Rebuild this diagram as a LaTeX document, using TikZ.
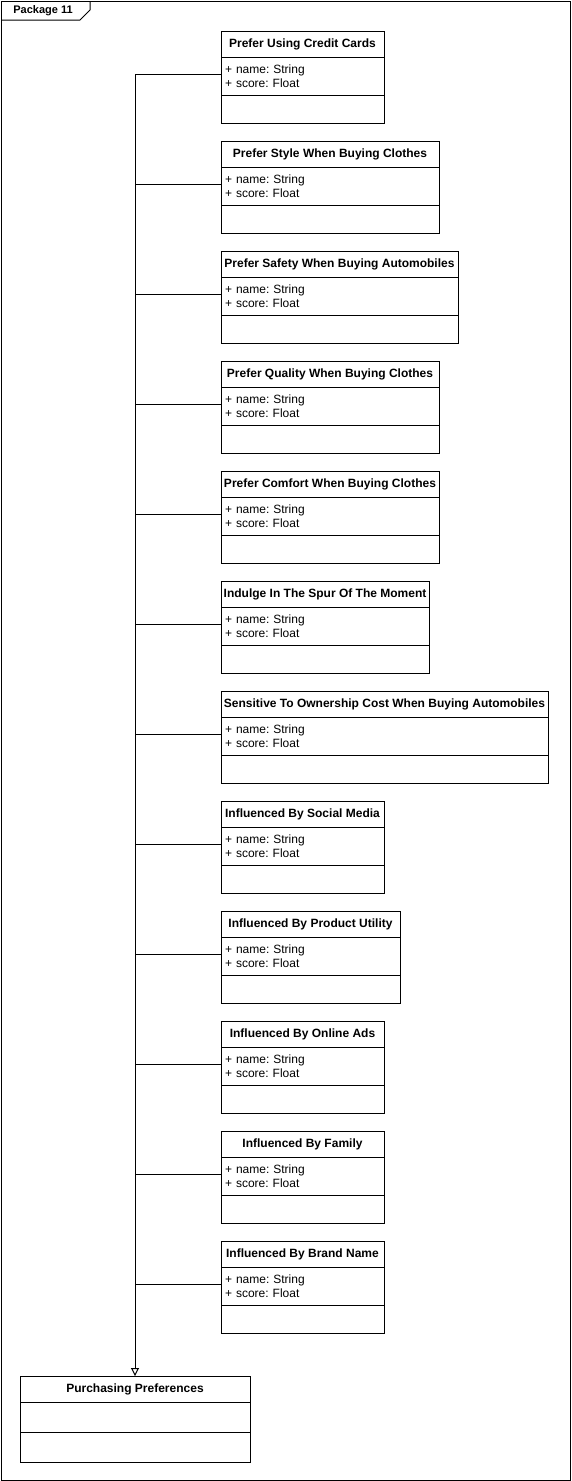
\documentclass[tikz,border=0pt]{standalone}
\usepackage{fontspec}
\setmainfont{Liberation Sans}
\usetikzlibrary{arrows.meta}
\frenchspacing
\begin{document}
\begin{tikzpicture}[x=1pt,y=-1pt,line width=1pt,
  hdr/.style={draw, minimum height=26pt, anchor=north west, inner sep=0pt, outer sep=0pt, font=\frenchspacing\bfseries\fontsize{12}{14}\selectfont},
  attr/.style={draw, minimum height=38pt, anchor=north west, inner xsep=4pt, inner ysep=0pt, outer sep=0pt, align=left, font=\frenchspacing\fontsize{12}{14}\selectfont},
  meth/.style={draw, anchor=north west, inner sep=0pt, outer sep=0pt},
  link/.style={draw, line width=1pt},
  gen/.style={draw, line width=1pt, -{Triangle[open, length=8pt, width=8pt]}}]
\useasboundingbox (0,0) rectangle (571,1481);
% package frame
\draw (1,1) rectangle (570,1480);
\draw (1,20) -- (80,20) -- (90,10) -- (90,1);
\node[font=\bfseries\fontsize{11}{13}\selectfont, inner sep=0pt] (pkg) at (43,11) {Package 11};
\foreach \i/\w/\t in {
  1/163/Prefer Using Credit Cards,
  2/218/Prefer Style When Buying Clothes,
  3/237/Prefer Safety When Buying Automobiles,
  4/218/Prefer Quality When Buying Clothes,
  5/218/Prefer Comfort When Buying Clothes,
  6/208/Indulge In The Spur Of The Moment,
  7/327/Sensitive To Ownership Cost When Buying Automobiles,
  8/163/Influenced By Social Media,
  9/179/Influenced By Product Utility,
  10/163/Influenced By Online Ads,
  11/163/Influenced By Family,
  12/163/Influenced By Brand Name}{
  \pgfmathsetmacro\y{31+110*(\i-1)}
  \pgfmathsetmacro\tw{\w-8}
  \pgfmathsetmacro\ty{\y+43}
  \node[hdr, minimum width=\w pt] (h\i) at (221,\y) {\t};
  \node[attr, minimum width=\w pt, text width=\tw pt] (a\i) at (h\i.south west) {+ name: String\\+ score: Float};
  \node[meth, minimum width=\w pt, minimum height=28pt] (m\i) at (a\i.south west) {};
  \coordinate (t\i) at (135,\ty);
  \draw[link] (a\i.west |- t\i) -- (t\i);
}
\node[hdr, minimum width=230pt] (pph) at (20,1376) {Purchasing Preferences};
\node[meth, minimum width=230pt, minimum height=30pt] (ppa) at (pph.south west) {};
\node[meth, minimum width=230pt, minimum height=30pt] (ppm) at (ppa.south west) {};
\draw[gen] (t1) -- (pph.north);
\end{tikzpicture}
\end{document}
